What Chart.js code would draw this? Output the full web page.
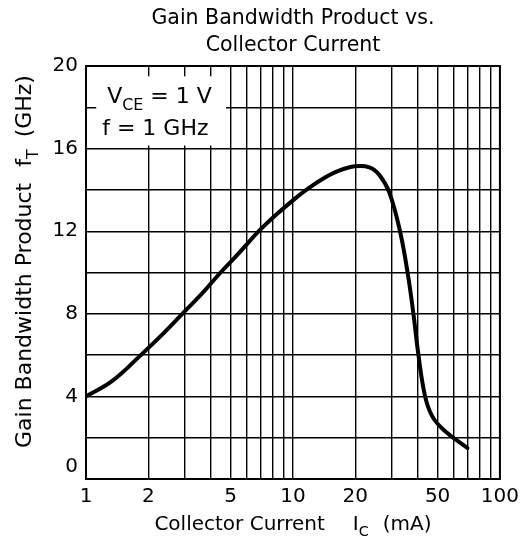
<!DOCTYPE html>
<html>
<head>
<meta charset="utf-8">
<script src="https://cdn.jsdelivr.net/npm/chart.js@4.4.1/dist/chart.umd.min.js"></script>
<style>
  html,body{margin:0;padding:0;background:#fff}
  #wrap{width:525px;height:554px}
</style>
</head>
<body>
<div id="wrap"><canvas id="gbw" width="525" height="554"></canvas></div>
<script>
// fT vs Ic, VCE = 1 V, f = 1 GHz
const currentMA = [1, 1.34, 1.84, 2.34, 2.92, 3.65, 4.47, 5.48, 6.84, 8.39, 10.3, 11.6, 13.9, 16.7, 20, 23.4, 26.1, 29.2, 32.9, 35.8, 38.2, 40.4, 43.5, 47.2, 53.7, 69.6];
const ftGHz     = [4.0, 4.75, 6.0, 7.0, 8.0, 9.0, 10.0, 10.94, 12.0, 12.84, 13.6, 14.0, 14.53, 14.93, 15.14, 15.09, 14.73, 13.88, 12.0, 10.0, 8.0, 6.0, 4.0, 3.02, 2.36, 1.5];

const xGridVals  = [1,2,3,4,5,6,7,8,9,10,20,30,40,50,60,70,80,90,100];
const xLabelVals = [1,2,5,10,20,50,100];
const yLabelStep = 4;

const titleLines = ['Gain Bandwidth Product vs.', 'Collector Current'];
const FONT = '"DejaVu Sans", "Liberation Sans", Arial, sans-serif';

// text runs with subscripts
function drawRuns(ctx, runs, x, y, size){
  runs.forEach(r=>{
    ctx.font=(r.sub?size*0.72:size)+'px '+FONT;
    ctx.fillText(r.t, x, r.sub? y+size*0.32 : y);
    x+=ctx.measureText(r.t).width+(r.gap||0);
  });
}
function runsWidth(ctx, runs, size){
  let w=0;
  runs.forEach(r=>{ ctx.font=(r.sub?size*0.72:size)+'px '+FONT; w+=ctx.measureText(r.t).width+(r.gap||0); });
  return w;
}

const extras = {
  id:'extras',
  beforeDatasetsDraw(chart){
    const {ctx, scales:{x,y}} = chart;
    // white box with the test conditions
    const l=x.getPixelForValue(1.12), r=x.getPixelForValue(4.75);
    const t=y.getPixelForValue(19.5), b=y.getPixelForValue(16.15);
    ctx.save();
    ctx.fillStyle='#fff'; ctx.fillRect(l,t,r-l,b-t);
    ctx.fillStyle='#000'; ctx.textBaseline='alphabetic';
    drawRuns(ctx,[{t:'V'},{t:'CE',sub:true},{t:' = 1 V'}], l+11, t+27, 22);
    ctx.font='22px '+FONT;
    ctx.fillText('f = 1 GHz', l+6, t+59);
    ctx.restore();
  },
  afterDraw(chart){
    const {ctx, chartArea:a} = chart;
    ctx.save();
    ctx.strokeStyle='#000'; ctx.lineWidth=2;
    ctx.strokeRect(a.left,a.top,a.right-a.left,a.bottom-a.top);
    ctx.fillStyle='#000'; ctx.textAlign='center'; ctx.textBaseline='alphabetic';
    const cx=(a.left+a.right)/2;
    ctx.font='20.5px '+FONT;
    ctx.fillText(titleLines[0], cx, 24);
    ctx.fillText(titleLines[1], cx, 51);
    ctx.textAlign='left';
    // x axis title
    const xr=[{t:'Collector Current',gap:28},{t:'I'},{t:'C',sub:true,gap:14},{t:'(mA)'}];
    drawRuns(ctx,xr,cx-runsWidth(ctx,xr,20)/2,530,20);
    // y axis title, reads bottom to top
    const yr=[{t:'Gain Bandwidth Product',gap:16},{t:'f'},{t:'T',sub:true,gap:12},{t:'(GHz)'}];
    ctx.translate(31,448);
    ctx.rotate(-Math.PI/2);
    drawRuns(ctx,yr,0,0,22);
    ctx.restore();
  }
};

new Chart(document.getElementById('gbw'),{
  type:'line',
  data:{datasets:[{
    data:currentMA.map((v,i)=>({x:v,y:ftGHz[i]})),
    borderColor:'#000',borderWidth:4,pointRadius:0,fill:false,
    tension:0.4,borderCapStyle:'round',borderJoinStyle:'round'
  }]},
  options:{
    responsive:false,animation:false,devicePixelRatio:1,
    layout:{padding:{top:66,right:23,left:0,bottom:0}},
    plugins:{legend:{display:false},tooltip:{enabled:false},title:{display:false}},
    scales:{
      x:{
        type:'logarithmic',min:1,max:100,
        afterBuildTicks:s=>{ s.ticks=xGridVals.map(v=>({value:v})); },
        afterFit:s=>{ s.height=75; },
        grid:{color:'#000',lineWidth:1.4,drawTicks:false},
        border:{display:false},
        ticks:{autoSkip:false,maxRotation:0,padding:6,color:'#000',font:{family:FONT,size:20},
          callback:v=>xLabelVals.includes(v)?String(v):''}
      },
      y:{
        min:0,max:20,
        afterFit:s=>{ s.width=86; },
        grid:{color:'#000',lineWidth:1.4,drawTicks:false},
        border:{display:false},
        ticks:{stepSize:2,autoSkip:false,padding:8,color:'#000',font:{family:FONT,size:20},
          // the 0 label sits a little above the axis, clear of the x labels
          callback:v=>v===0?['0','']:(v%yLabelStep===0?String(v):'')}
      }
    }
  },
  plugins:[extras]
});
</script>
</body>
</html>
